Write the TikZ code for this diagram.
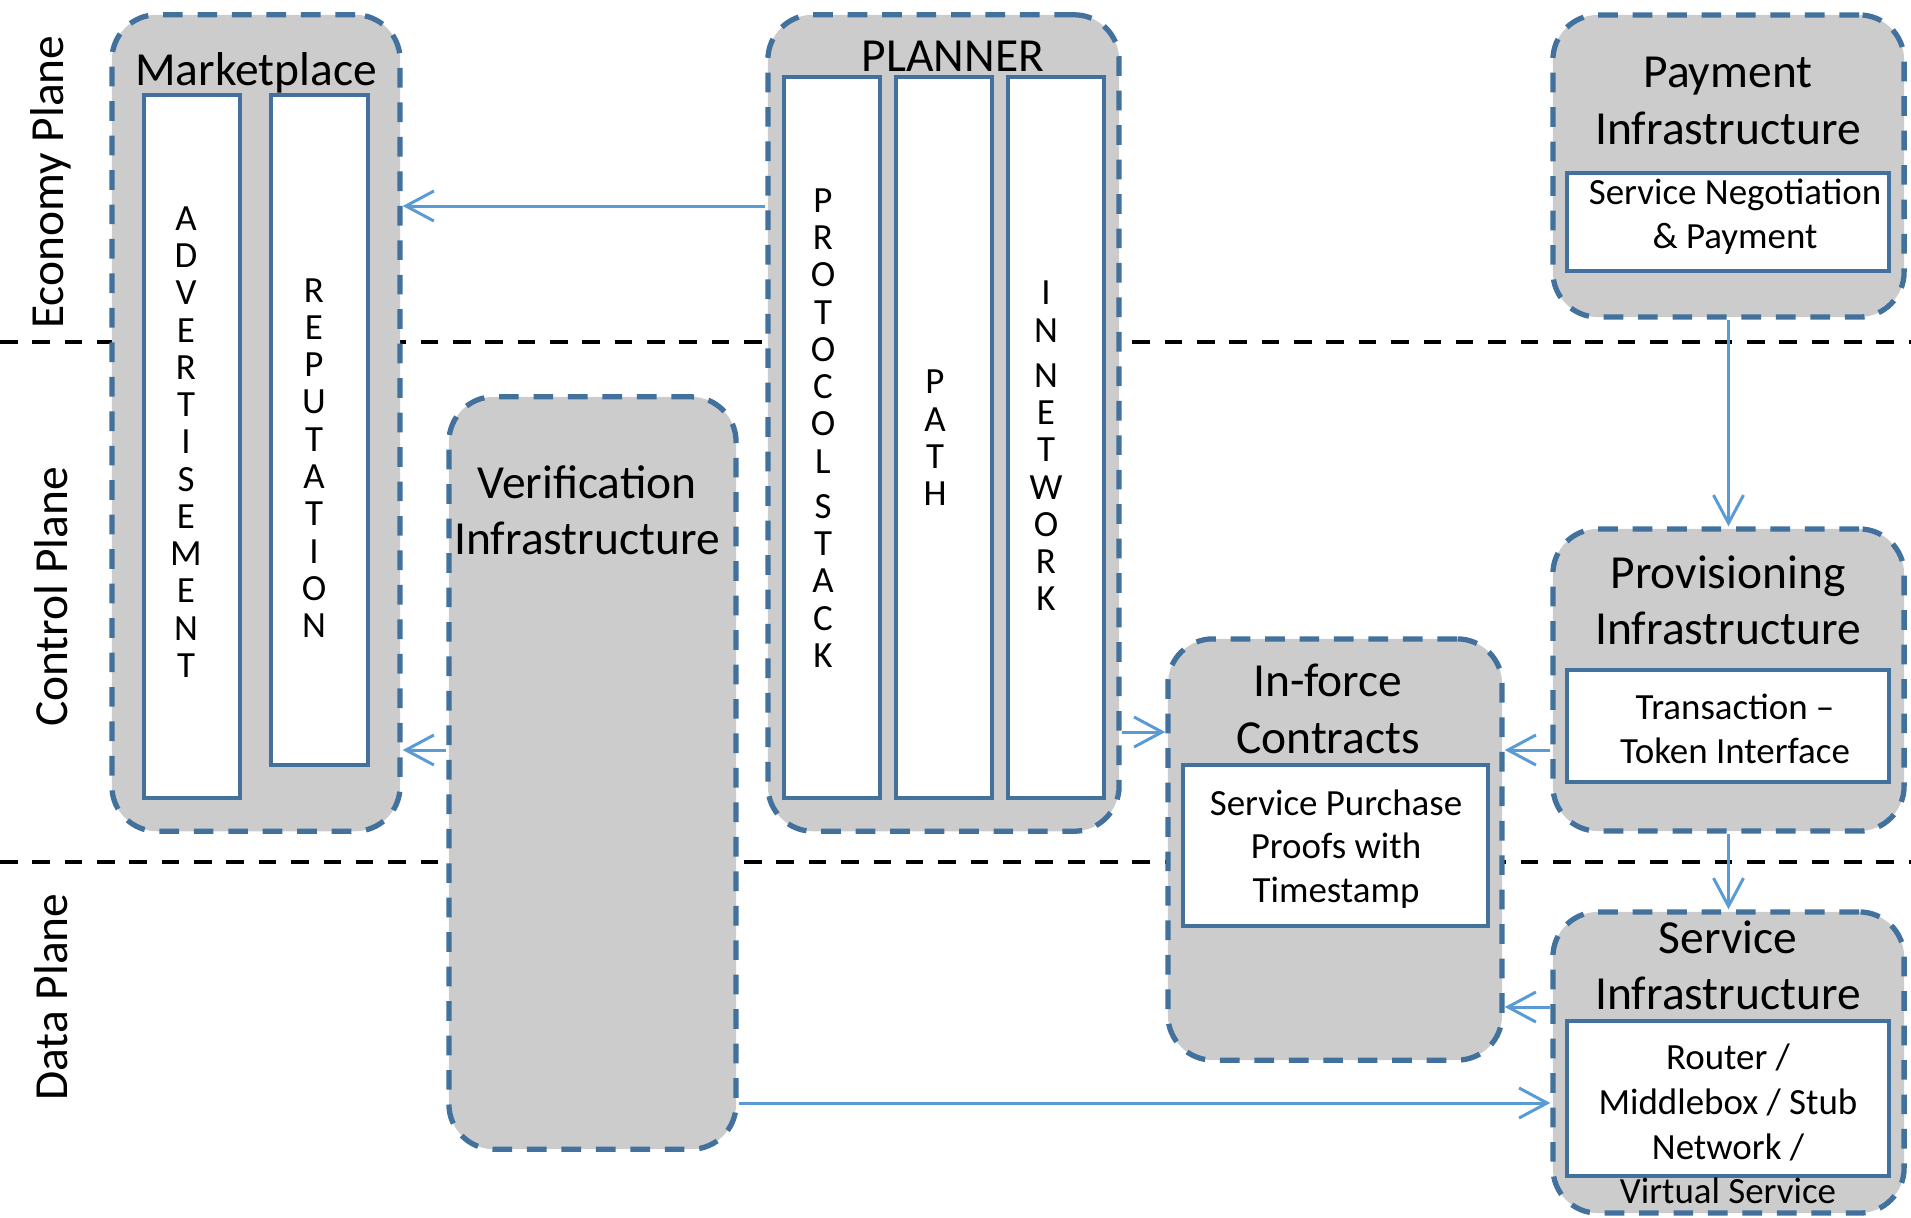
\documentclass[tikz,border=0pt]{standalone}
\usepackage{fontspec}
\setmainfont{Carlito}
\usepackage{xcolor}
\usetikzlibrary{arrows.meta,positioning,shapes,calc}
\definecolor{boxgray}{HTML}{CCCCCC}
\definecolor{boxblue}{HTML}{41719C}
\definecolor{arrowblue}{HTML}{5B9BD5}
\tikzset{
    every node/.style={font=\fontsize{13.5}{16}\selectfont},
    infra/.style={draw=boxblue, fill=boxgray, line width=1.5pt,
        dash pattern=on 5.6pt off 4.2pt, rounded corners=0.45cm, inner sep=0pt},
    inner/.style={draw=boxblue, fill=white, line width=1.1pt, inner sep=0pt},
    title/.style={align=center, font=\fontsize{13.5}{16}\selectfont},
    small/.style={align=center, font=\fontsize{10.5}{12.4}\selectfont},
    letters/.style={align=center, font=\fontsize{10.5}{10.6}\selectfont},
    arr/.style={draw=arrowblue, line width=0.85pt, -{Straight Barb[length=2.8mm,width=3mm]}},
    planesep/.style={line width=1.1pt, dash pattern=on 5pt off 4.2pt}
}

\begin{document}
\begin{tikzpicture}[x=0.01cm,y=-0.01cm]
    \useasboundingbox (0,0) rectangle (1911,1217);

    % plane separators
    \draw[planesep] (0,342) -- (1911,342);
    \draw[planesep] (0,862) -- (1911,862);
    \node[rotate=90] (eco) at (51,182) {Economy Plane};
    \node[rotate=90] (ctrl) at (51,597) {Control Plane};
    \node[rotate=90] (data) at (51,997) {Data Plane};

    % marketplace
    \node[infra, minimum width=2.88cm, minimum height=8.16cm] (market) at (256,423) {};
    \node[title] (markettitle) at (256,73) {Marketplace};
    \node[inner, minimum width=0.96cm, minimum height=7.03cm] (adv) at (192,446.5) {};
    \node[inner, minimum width=0.97cm, minimum height=6.70cm] (rep) at (319.5,430) {};
    \node[letters] (advtext) at (186,442) {A\\D\\V\\E\\R\\T\\I\\S\\E\\M\\E\\N\\T};
    \node[letters] (reptext) at (314,458) {R\\E\\P\\U\\T\\A\\T\\I\\O\\N};

    % planner
    \node[infra, minimum width=3.51cm, minimum height=8.16cm] (planner) at (943.5,423) {};
    \node[title] (plannertitle) at (953,56) {PLANNER};
    \node[inner, minimum width=0.96cm, minimum height=7.21cm] (proto) at (832,437.5) {};
    \node[inner, minimum width=0.96cm, minimum height=7.21cm] (path) at (944,437.5) {};
    \node[inner, minimum width=0.96cm, minimum height=7.21cm] (innet) at (1056,437.5) {};
    \node[letters] (prototext) at (823,428) {P\\R\\O\\T\\O\\C\\O\\L\\[2.2pt]S\\T\\A\\C\\K};
    \node[letters] (pathtext) at (935,438) {P\\A\\T\\H};
    \node[letters] (innettext) at (1046,446) {I\\N\\[2.2pt]N\\E\\T\\W\\O\\R\\K};

    % verification
    \node[infra, minimum width=2.87cm, minimum height=7.52cm] (verif) at (592.5,773) {};
    \node[title] (veriftitle) at (587,510) {Verification\\Infrastructure};

    % in-force contracts
    \node[infra, minimum width=3.34cm, minimum height=4.21cm] (inforce) at (1335,849.5) {};
    \node[title] (inforcetitle) at (1328,709) {In-force\\Contracts};
    \node[inner, minimum width=3.05cm, minimum height=1.61cm] (proofs) at (1335.5,845.5) {};
    \node[small] (proofstext) at (1336,849) {Service Purchase\\Proofs with\\Timestamp};

    % payment
    \node[infra, minimum width=3.51cm, minimum height=3.02cm] (pay) at (1728.5,166) {};
    \node[title] (paytitle) at (1728,101) {Payment\\Infrastructure};
    \node[inner, minimum width=3.22cm, minimum height=0.98cm] (nego) at (1728,222) {};
    \node[small] (negotext) at (1735,217) {Service Negotiation\\\& Payment};

    % provisioning
    \node[infra, minimum width=3.51cm, minimum height=3.02cm] (prov) at (1728.5,680) {};
    \node[title] (provtitle) at (1728,600) {Provisioning\\Infrastructure};
    \node[inner, minimum width=3.22cm, minimum height=1.12cm] (token) at (1728,726) {};
    \node[small] (tokentext) at (1735,729) {Transaction --\\Token Interface};

    % service
    \node[infra, minimum width=3.51cm, minimum height=3.01cm] (serv) at (1728.5,1062.5) {};
    \node[title] (servtitle) at (1728,965) {Service\\Infrastructure};
    \node[inner, minimum width=3.22cm, minimum height=1.55cm] (router) at (1728,1098.5) {};
    \node[small, font=\fontsize{10.5}{12.7}\selectfont] (routertext) at (1728,1124)
        {Router /\\Middlebox / Stub\\Network /\\Virtual Service};

    % connectors
    \draw[arr] (planner.west |- 0,206) -- (market.east |- 0,206);
    \draw[arr] (verif.west |- 0,750) -- (market.east |- 0,750);
    \draw[arr] (planner.east |- 0,732) -- (inforce.west |- 0,732);
    \draw[arr] (prov.west |- 0,750) -- (inforce.east |- 0,750);
    \draw[arr] (serv.west |- 0,1007) -- (inforce.east |- 0,1007);
    \draw[arr] (verif.east |- 0,1103) -- (serv.west |- 0,1103);
    \draw[arr] (pay.south) -- (prov.north);
    \draw[arr] (prov.south) -- (serv.north);
\end{tikzpicture}
\end{document}
